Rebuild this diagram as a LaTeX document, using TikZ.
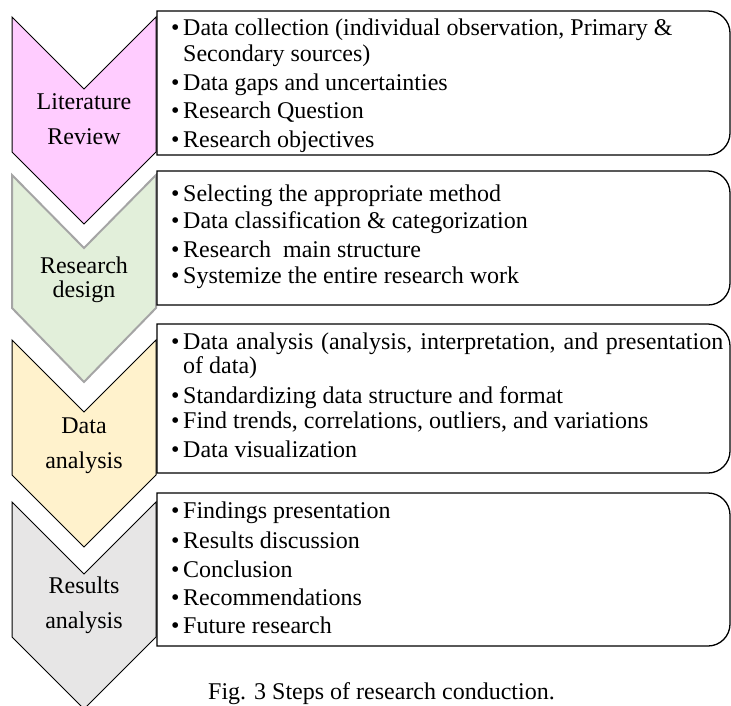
\documentclass[tikz,border=0pt]{standalone}
\usepackage{fontspec}
\setmainfont{Liberation Serif}
\definecolor{pinkfill}{HTML}{FFCCFF}
\definecolor{greenfill}{HTML}{E2EFDA}
\definecolor{greenedge}{HTML}{A5A5A5}
\definecolor{yellowfill}{HTML}{FFF2CC}
\definecolor{grayfill}{HTML}{E7E6E6}
\begin{document}
\begin{tikzpicture}[x=1pt,y=-1pt,
  chev/.style={draw=black,line width=1pt,line join=miter},
  infobox/.style={draw=black,fill=white,line width=1.3pt},
  txt/.style={anchor=base west,inner sep=0pt,font=\fontsize{24}{28}\selectfont},
  bul/.style={anchor=base west,inner sep=0pt,font=\fontsize{24}{28}\selectfont},
  lbl/.style={anchor=base,inner sep=0pt,font=\fontsize{24}{28}\selectfont}]
\useasboundingbox (0,0) rectangle (731,705);
% chevrons
\draw[chev,fill=pinkfill] (12,17) -- (84,89) -- (156,17) -- (156,152) -- (84,224) -- (12,152) -- cycle;
\draw[chev,fill=greenfill,draw=greenedge,line width=2pt] (12,175) -- (84,248) -- (156,175) -- (156,308) -- (84,382) -- (12,308) -- cycle;
\draw[chev,fill=yellowfill] (12,340) -- (84,412) -- (156,340) -- (156,475) -- (84,547) -- (12,475) -- cycle;
\draw[chev,fill=grayfill] (12,502) -- (84,574) -- (156,502) -- (156,637) -- (84,709) -- (12,637) -- cycle;
% boxes
\draw[infobox] (157,11) -- (708,11) .. controls (720.15,11) and (730,20.85) .. (730,33) -- (730,133) .. controls (730,145.15) and (720.15,155) .. (708,155) -- (157,155) -- cycle;
\draw[infobox] (157,171) -- (708,171) .. controls (720.15,171) and (730,180.85) .. (730,193) -- (730,283) .. controls (730,295.15) and (720.15,305) .. (708,305) -- (157,305) -- cycle;
\draw[infobox] (157,324) -- (708,324) .. controls (720.15,324) and (730,333.85) .. (730,346) -- (730,451) .. controls (730,463.15) and (720.15,473) .. (708,473) -- (157,473) -- cycle;
\draw[infobox] (157,493) -- (708,493) .. controls (720.15,493) and (730,502.85) .. (730,515) -- (730,624) .. controls (730,636.15) and (720.15,646) .. (708,646) -- (157,646) -- cycle;
% chevron labels
\node[lbl] (l1a) at (84,109) {Literature};
\node[lbl] (l1b) at (84,144) {Review};
\node[lbl] (l2a) at (84,273) {Research};
\node[lbl] (l2b) at (84,297) {design};
\node[lbl] (l3a) at (84,433) {Data};
\node[lbl] (l3b) at (84,468) {analysis};
\node[lbl] (l4a) at (84,593) {Results};
\node[lbl] (l4b) at (84,628) {analysis};
% box 1
\node[bul] (b11) at (171,35) {•};
\node[txt] (t11) at (183,35) {Data collection (individual observation, Primary \&};
\node[txt] (t11c) at (183,61) {Secondary sources)};
\node[bul] (b12) at (171,90) {•};
\node[txt] (t12) at (183,90) {Data gaps and uncertainties};
\node[bul] (b13) at (171,118) {•};
\node[txt] (t13) at (183,118) {Research Question};
\node[bul] (b14) at (171,147) {•};
\node[txt] (t14) at (183,147) {Research objectives};
% box 2
\node[bul] (b21) at (171,201) {•};
\node[txt] (t21) at (183,201) {Selecting the appropriate method};
\node[bul] (b22) at (171,228) {•};
\node[txt] (t22) at (183,228) {Data classification \& categorization};
\node[bul] (b23) at (171,257) {•};
\node[txt] (t23) at (183,257) {Research\ \ main structure};
\node[bul] (b24) at (171,283) {•};
\node[txt] (t24) at (183,283) {Systemize the entire research work};
% box 3
\node[bul] (b31) at (171,349) {•};
\node[txt] (t31) at (183,349) {\makebox[540pt][s]{Data analysis (analysis, interpretation, and presentation}};
\node[txt] (t31c) at (183,373) {of data)};
\node[bul] (b32) at (171,403) {•};
\node[txt] (t32) at (183,403) {Standardizing data structure and format};
\node[bul] (b33) at (171,428) {•};
\node[txt] (t33) at (183,428) {Find trends, correlations, outliers, and variations};
\node[bul] (b34) at (171,457) {•};
\node[txt] (t34) at (183,457) {Data visualization};
% box 4
\node[bul] (b41) at (171,518) {•};
\node[txt] (t41) at (183,518) {Findings presentation};
\node[bul] (b42) at (171,548) {•};
\node[txt] (t42) at (183,548) {Results discussion};
\node[bul] (b43) at (171,577) {•};
\node[txt] (t43) at (183,577) {Conclusion};
\node[bul] (b44) at (171,605) {•};
\node[txt] (t44) at (183,605) {Recommendations};
\node[bul] (b45) at (171,633) {•};
\node[txt] (t45) at (183,633) {Future research};
% caption
\node[txt] (cap) at (208,699) {Fig. 3 Steps of research conduction.};
\end{tikzpicture}
\end{document}
